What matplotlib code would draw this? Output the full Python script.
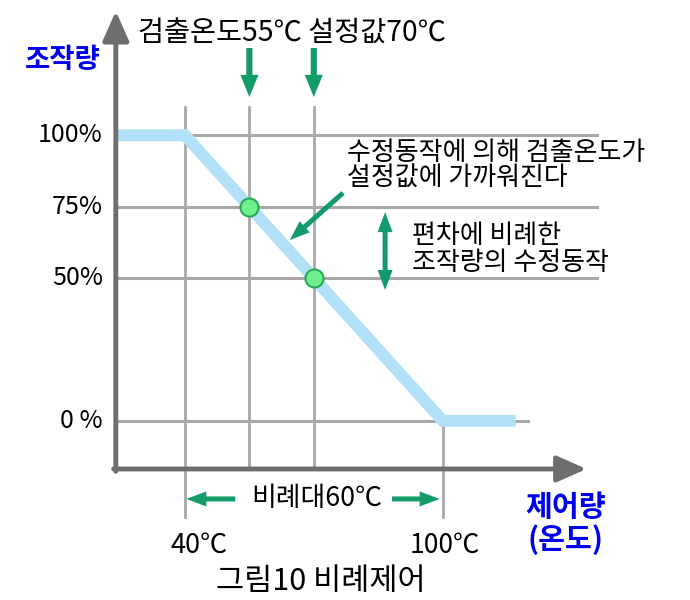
import matplotlib
matplotlib.use("Agg")
import matplotlib.pyplot as plt

plt.rcParams['font.family'] = ['Noto Sans CJK KR', 'DejaVu Sans']

# ---- data ----
line_x = [24, 40, 100, 117]          # control curve (temperature, °C)
line_y = [100, 100, 0, 0]            # manipulated amount (%)
point_x = [55, 70]                   # detected temp, set value
point_y = [75, 50]
v_grid = [40, 55, 70, 100]
h_grid = [100, 75, 50, 0]
y_tick_labels = ['100%', '75%', '50%', '0 %']
x_tick_vals = [40, 100]
x_tick_labels = ['40℃', '100℃']

title_top = '검출온도55℃ 설정값70℃'
ylabel = '조작량'
xlabel = ['제어량', '(온도)']
note1 = ['수정동작에 의해 검출온도가', '설정값에 가까워진다']
note2 = ['편차에 비례한', '조작량의 수정동작']
band_label = '비례대60℃'
caption = '그림10 비례제어'

GREEN = '#139b6a'
GRID = '#a8a8a8'
AXC = '#6e6e6e'
BLUE_T = '#0000ee'

fig = plt.figure(figsize=(6.9, 6.0), dpi=100)
ax = fig.add_axes([0, 0, 1, 1])
ax.set_xlim(-3.07, 157.6)
ax.set_ylim(-62.8, 147.4)
ax.axis('off')

x0, y0 = 23.9, -16.9   # axis origin

# grid lines
for v in v_grid:
    if v == 40:
        ax.plot([v, v], [-33.7, 109.9], color=GRID, lw=2.0, zorder=1)
    elif v == 100:
        ax.plot([v, v], [-33.7, 0], color=GRID, lw=2.0, zorder=1)
    else:
        ax.plot([v, v], [y0, 109.9], color=GRID, lw=2.0, zorder=1)
for h in h_grid:
    xe = 119.9 if h == 0 else 135.9
    ax.plot([x0, xe], [h, h], color=GRID, lw=2.2, zorder=1)

# control line
ax.plot(line_x, line_y, color='#b2e1f7', lw=8.6, solid_capstyle='butt',
        solid_joinstyle='miter', zorder=2)

# axes with arrows
ax.annotate('', xy=(x0, 143.5), xytext=(x0, y0 - 0.8),
            arrowprops=dict(arrowstyle='-|>,head_length=0.9,head_width=0.4',
                            color=AXC, lw=3.5, shrinkA=0, shrinkB=0,
                            mutation_scale=20), zorder=3)
ax.annotate('', xy=(133.5, y0), xytext=(x0 - 0.5, y0),
            arrowprops=dict(arrowstyle='-|>,head_length=0.9,head_width=0.4',
                            color=AXC, lw=3.5, shrinkA=0, shrinkB=0,
                            mutation_scale=20), zorder=3)

# points
ax.plot(point_x, point_y, 'o', ms=13, mfc='#6ef08c', mec='#2aa85a', mew=1.5,
        zorder=5)

# green arrows
simple = 'simple,head_length=0.8,head_width=0.65,tail_width=0.22'
for px in point_x:
    ax.annotate('', xy=(px, 113.4), xytext=(px, 130.6),
                arrowprops=dict(arrowstyle=simple, color=GREEN, lw=0,
                                shrinkA=0, shrinkB=0, mutation_scale=20),
                zorder=4)
small = 'simple,head_length=0.8,head_width=0.6,tail_width=0.2'
ax.annotate('', xy=(64.4, 63.3), xytext=(76.8, 79.8),
            arrowprops=dict(arrowstyle=small, color=GREEN, lw=0,
                            shrinkA=0, shrinkB=0, mutation_scale=18), zorder=4)
mid = (73.1 + 45.8) / 2
for end in (73.1, 45.8):
    ax.annotate('', xy=(86.6, end), xytext=(86.6, mid),
                arrowprops=dict(arrowstyle=small, color=GREEN, lw=0,
                                shrinkA=0, shrinkB=0, mutation_scale=18),
                zorder=4)
ax.annotate('', xy=(40.3, -27.4), xytext=(51.7, -27.4),
            arrowprops=dict(arrowstyle=small, color=GREEN, lw=0,
                            shrinkA=0, shrinkB=0, mutation_scale=18), zorder=4)
ax.annotate('', xy=(99.3, -27.4), xytext=(88.2, -27.4),
            arrowprops=dict(arrowstyle=small, color=GREEN, lw=0,
                            shrinkA=0, shrinkB=0, mutation_scale=18), zorder=4)

# texts
ax.text(65.0, 136.0, title_top, fontsize=20.4, ha='center', va='center')
ax.text(11.5, 126.4, ylabel, fontsize=19.8, fontweight='bold', color=BLUE_T,
        ha='center', va='center')
for h, lab in zip(h_grid, y_tick_labels):
    ax.text(20.9, h, lab, fontsize=18, ha='right', va='center')
ax.text(x_tick_vals[0] + 3.4, -43.5, x_tick_labels[0], fontsize=19.5,
        ha='center', va='center')
ax.text(x_tick_vals[1] + 0.4, -43.5, x_tick_labels[1], fontsize=19,
        ha='center', va='center')
ax.text(77.7, 93.8, note1[0], fontsize=18.7, ha='left', va='center')
ax.text(77.7, 85.0, note1[1], fontsize=18.7, ha='left', va='center')
ax.text(92.9, 65.0, note2[0], fontsize=18.7, ha='left', va='center')
ax.text(92.9, 55.6, note2[1], fontsize=18.7, ha='left', va='center')
ax.text(70.6, -27.4, band_label, fontsize=19.4, ha='center', va='center')
ax.text(128.7, -30.2, xlabel[0], fontsize=21, fontweight='bold',
        color=BLUE_T, ha='center', va='center')
ax.text(128.7, -41.8, xlabel[1], fontsize=21, fontweight='bold',
        color=BLUE_T, ha='center', va='center')
ax.text(71.7, -56.4, caption, fontsize=22, ha='center', va='center')

fig.savefig('out.png', dpi=100, facecolor='white')
